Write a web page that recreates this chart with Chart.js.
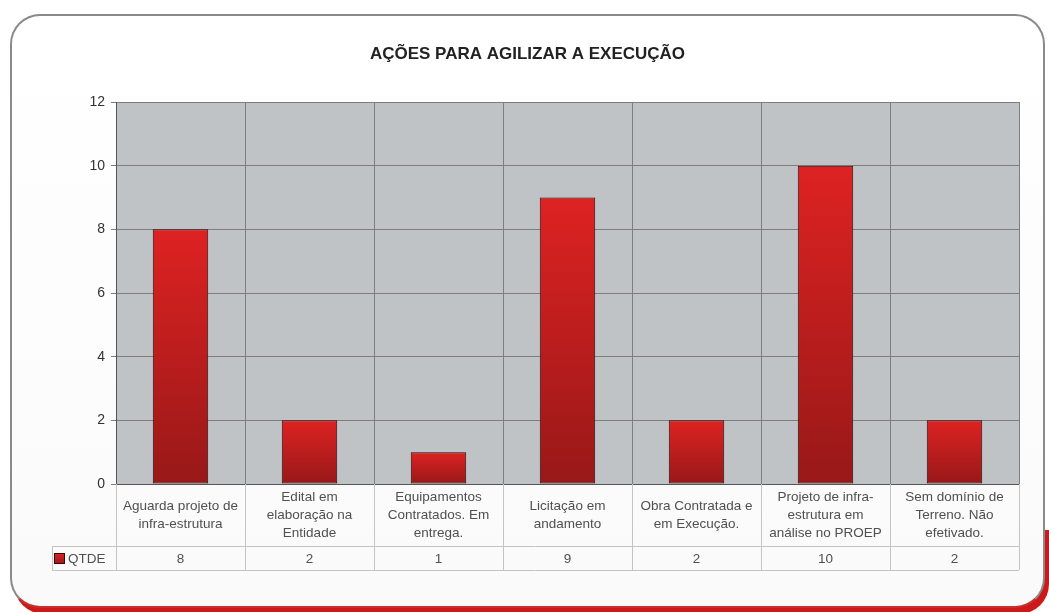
<!DOCTYPE html>
<html>
<head>
<meta charset="utf-8">
<script src="https://cdn.jsdelivr.net/npm/chart.js@4.4.0/dist/chart.umd.min.js"></script>
<style>
  html, body { margin: 0; padding: 0; background: #fff; }
  #wrap { position: relative; width: 1049px; height: 612px; overflow: hidden; }
  #redback {
    position: absolute; left: 14px; top: 17px; width: 1035px; height: 597px;
    border-radius: 30px;
    background: linear-gradient(to bottom, rgba(204,26,26,0) 86%, #cc1a1a 86%);
  }
  #card {
    position: absolute; left: 10px; top: 14px; width: 1031px; height: 590px;
    border: 2px solid #8a8a8a; border-bottom: 2px solid #c83030;
    border-radius: 30px;
    background: linear-gradient(to bottom, #ffffff, #fafafa);
  }
  canvas { position: absolute; left: 0; top: 0; }
</style>
</head>
<body>
<div id="wrap">
  <div id="redback"></div>
  <div id="card"></div>
  <canvas id="bar-chart" width="1049" height="612"></canvas>
</div>
<script>
var categories = [
  ["Aguarda projeto de", "infra-estrutura"],
  ["Edital em", "elaboração na", "Entidade"],
  ["Equipamentos", "Contratados. Em", "entrega."],
  ["Licitação em", "andamento"],
  ["Obra Contratada e", "em Execução."],
  ["Projeto de infra-", "estrutura em", "análise no PROEP"],
  ["Sem domínio de", "Terreno. Não", "efetivado."]
];
var qtde = [8, 2, 1, 9, 2, 10, 2];
var yTicks = [0, 2, 4, 6, 8, 10, 12];
var seriesName = "QTDE";

var fontFam = "'Liberation Sans', Arial, sans-serif";

function redGradient(ctx, top, bottom) {
  var g = ctx.createLinearGradient(0, top, 0, bottom);
  g.addColorStop(0, '#de2222');
  g.addColorStop(1, '#981818');
  return g;
}

// gray plot background
var plotBg = {
  id: 'plotBg',
  beforeDraw: function(chart) {
    var a = chart.chartArea, c = chart.ctx;
    c.save();
    c.fillStyle = '#c0c3c6';
    c.fillRect(a.left, a.top, a.right - a.left, a.bottom - a.top);
    c.restore();
  }
};

// data table under the chart (labels row + QTDE row)
var dataTable = {
  id: 'dataTable',
  afterDraw: function(chart) {
    var c = chart.ctx, x = chart.scales.x, a = chart.chartArea;
    var n = categories.length;
    var w = (x.right - x.left) / n;
    var rowTop = a.bottom, rowMid = 546, rowBot = 570, leftEdge = 52;
    c.save();
    c.strokeStyle = '#c4c4c4';
    c.lineWidth = 1;
    c.beginPath();
    for (var i = 0; i <= n; i++) {
      var px = Math.round(x.left + i * w) + 0.5;
      c.moveTo(px, rowTop); c.lineTo(px, rowBot);
    }
    c.moveTo(leftEdge + 0.5, rowMid); c.lineTo(leftEdge + 0.5, rowBot);
    c.moveTo(leftEdge, rowMid + 0.5); c.lineTo(x.right, rowMid + 0.5);
    c.moveTo(leftEdge, rowBot + 0.5); c.lineTo(x.right, rowBot + 0.5);
    c.stroke();

    c.fillStyle = '#505050';
    c.font = '13.5px ' + fontFam;
    c.textAlign = 'center';
    c.textBaseline = 'middle';
    var lh = 18;
    for (var j = 0; j < n; j++) {
      var cx = x.getPixelForValue(j);
      var lines = categories[j];
      var y0 = (rowTop + rowMid) / 2 - (lines.length - 1) * lh / 2;
      for (var k = 0; k < lines.length; k++) {
        c.fillText(lines[k], cx, y0 + k * lh);
      }
      c.fillText(String(qtde[j]), cx, (rowMid + rowBot) / 2 + 1);
    }
    // legend key
    c.fillStyle = redGradient(c, 553, 565);
    c.fillRect(54, 553, 11, 11);
    c.strokeStyle = '#3a0a0a';
    c.strokeRect(54.5, 553.5, 10, 10);
    c.fillStyle = '#505050';
    c.textAlign = 'left';
    c.fillText(seriesName, 68, (rowMid + rowBot) / 2 + 1);
    c.restore();
  }
};

var ctxb = document.getElementById("bar-chart").getContext('2d');
var barChart = new Chart(ctxb, {
  type: 'bar',
  data: {
    labels: categories.map(function(l) { return l.join(' '); }),
    datasets: [{
      label: seriesName,
      data: qtde,
      backgroundColor: function(context) {
        var ch = context.chart;
        if (!ch.chartArea || context.raw === undefined) return '#c82020';
        var ys = ch.scales.y;
        return redGradient(ch.ctx, ys.getPixelForValue(context.raw), ys.getPixelForValue(0));
      },
      borderColor: '#2e0808',
      borderWidth: 1,
      borderSkipped: false,
      barPercentage: 0.43,
      categoryPercentage: 1
    }]
  },
  options: {
    responsive: false,
    animation: false,
    layout: { padding: { left: 36, right: 30, top: 0, bottom: 66 } },
    plugins: {
      legend: { display: false },
      tooltip: { enabled: false },
      title: {
        display: true,
        text: 'AÇÕES PARA AGILIZAR A EXECUÇÃO',
        color: '#222',
        font: { family: fontFam, size: 17, weight: 'bold' },
        padding: { top: 44, bottom: 37.6 }
      }
    },
    scales: {
      x: {
        grid: { offset: true, color: '#7e7e7e', drawTicks: false },
        border: { color: '#555' },
        ticks: { display: false },
        afterFit: function(s) { s.height = 62; }
      },
      y: {
        min: 0, max: 12,
        afterBuildTicks: function(s) { s.ticks = yTicks.map(function(v) { return { value: v }; }); },
        grid: { color: '#7e7e7e', tickLength: 5 },
        border: { color: '#555' },
        ticks: { color: '#333', padding: 6, font: { family: fontFam, size: 14 } },
        afterFit: function(s) { s.width = 80; }
      }
    }
  },
  plugins: [plotBg, dataTable]
});
</script>
</body>
</html>
